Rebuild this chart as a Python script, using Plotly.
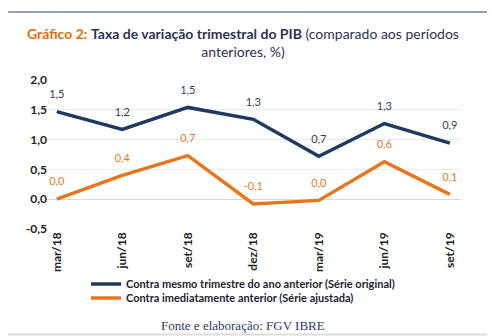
import plotly.graph_objects as go

categories = ["mar/18", "jun/18", "set/18", "dez/18", "mar/19", "jun/19", "set/19"]
serie_original = [1.47, 1.17, 1.54, 1.34, 0.72, 1.27, 0.94]
serie_ajustada = [0.00, 0.40, 0.73, -0.08, -0.02, 0.63, 0.08]
y_ticks = [-0.5, 0.0, 0.5, 1.0, 1.5, 2.0]

name_original = "Contra mesmo trimestre do ano anterior (Série original)"
name_ajustada = "Contra imediatamente anterior (Série ajustada)"

NAVY = "#1F3A60"
ORANGE = "#E8761F"
FONT = "Lato"


def fmt(v):
    return f"{round(v, 1) + 0.0:.1f}".replace(".", ",")


W, H = 492, 336
L, R, T, B = 45, 461, 80, 229


def px_x(px):
    return (px - L) / (R - L)


def px_y(py):
    return (B - py) / (B - T)


fig = go.Figure()
fig.add_trace(go.Scatter(
    x=list(range(len(categories))), y=serie_original, name=name_original,
    mode="lines+markers+text", line=dict(color=NAVY, width=3.5),
    marker=dict(size=16, color="rgba(0,0,0,0)"),
    text=[fmt(v) for v in serie_original], textposition="top center",
    textfont=dict(family=FONT, size=11, color="#2B3F5C"),
    cliponaxis=False, legend="legend",
))
fig.add_trace(go.Scatter(
    x=list(range(len(categories))), y=serie_ajustada, name=name_ajustada,
    mode="lines+markers+text", line=dict(color=ORANGE, width=3.5),
    marker=dict(size=16, color="rgba(0,0,0,0)"),
    text=[fmt(v) for v in serie_ajustada], textposition="top center",
    textfont=dict(family=FONT, size=11, color="#E47A2A"),
    cliponaxis=False, legend="legend2",
))

legend_common = dict(
    xref="container", xanchor="left", yref="container", yanchor="middle",
    font=dict(family=FONT, size=11, color="#1E1E2E", weight="bold"),
    bgcolor="rgba(0,0,0,0)", itemwidth=30, borderwidth=0,
)

fig.update_layout(
    width=W, height=H,
    margin=dict(l=L, r=W - R, t=T, b=H - B, autoexpand=False),
    paper_bgcolor="white", plot_bgcolor="white",
    font=dict(family=FONT, color="#222222"),
    separators=",.",
    showlegend=True,
    title=dict(
        text=("<span style='color:#E46C0A'><b>Gráfico 2:</b></span> "
              "<b>Taxa de variação trimestral do PIB</b> (comparado aos períodos"
              "<br>anteriores, %)"),
        font=dict(family=FONT, size=14, color="#2A3456"),
        x=243 / W, xanchor="center", xref="container",
        y=1 - 39 / H, yanchor="top", yref="container",
    ),
    legend=dict(x=86 / W, y=1 - 284 / H, **legend_common),
    legend2=dict(x=86 / W, y=1 - 298 / H, **legend_common),
    xaxis=dict(
        tickmode="array", tickvals=list(range(len(categories))),
        ticktext=[f"<b>{c}</b>" for c in categories],
        tickangle=-90, range=[-0.18, 6.17],
        showgrid=False, zeroline=False, showline=False,
        tickfont=dict(family=FONT, size=12, color="#222222"),
    ),
    yaxis=dict(
        range=[-0.5, 2.0], tickvals=y_ticks,
        ticktext=[f"<b>{fmt(v)}</b>" for v in y_ticks],
        showgrid=True, gridcolor="#EBEBEB", gridwidth=1,
        zeroline=True, zerolinecolor="#D9D9D9", zerolinewidth=1,
        tickfont=dict(family=FONT, size=12, color="#222222"),
        ticks="", ticklen=0, ticklabelstandoff=-3,
    ),
    shapes=[
        dict(type="line", xref="paper", yref="paper", layer="above",
             x0=px_x(8), x1=px_x(487), y0=px_y(12), y1=px_y(12),
             line=dict(color="#9AA0B2", width=2)),
        dict(type="line", xref="paper", yref="paper", layer="above",
             x0=px_x(8), x1=px_x(487), y0=px_y(334.5), y1=px_y(334.5),
             line=dict(color="#DDDDDD", width=2)),
    ],
    annotations=[
        dict(text="Fonte e elaboração: FGV IBRE", xref="paper", yref="paper",
             x=px_x(243), y=px_y(325), xanchor="center", yanchor="middle",
             showarrow=False,
             font=dict(family="Liberation Serif", size=13, color="#2A3A6A")),
    ],
)

fig.write_html("out.html")
